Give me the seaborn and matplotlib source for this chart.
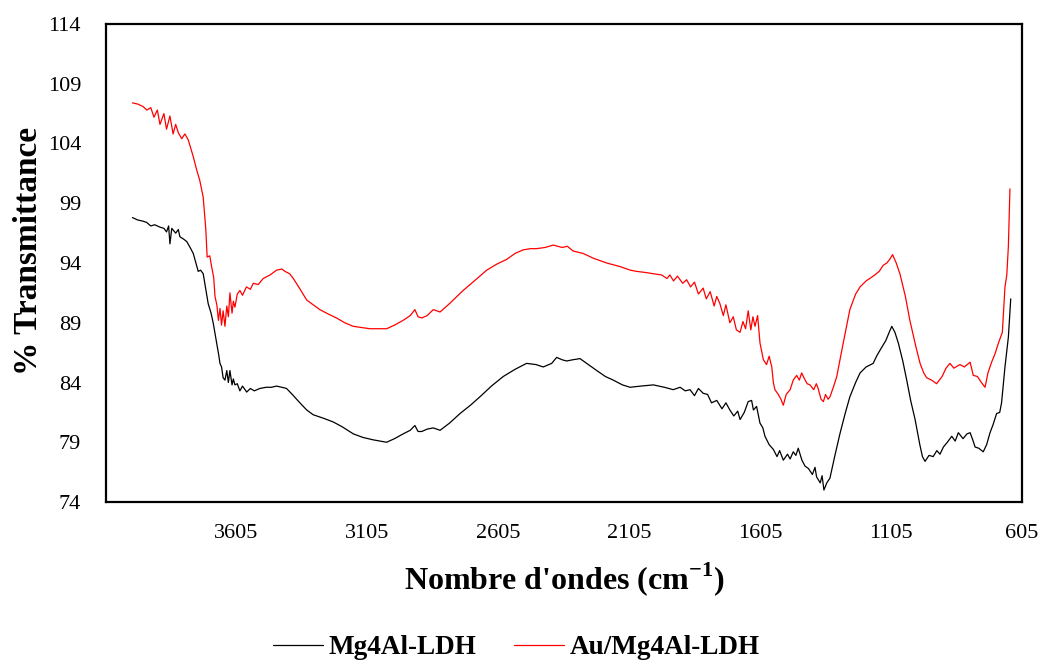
import numpy as np
import pandas as pd
import matplotlib
matplotlib.use("Agg")
import matplotlib.pyplot as plt
import seaborn as sns

# ---------------- data ----------------
wn_au = [4000,3980,3960,3945,3930,3918,3905,3895,3880,3870,3857,3845,3835,3825,3812,3800,3787,3768,3755,3743,
         3730,3720,3715,3705,3698,3690,3685,3678,3672,3666,3660,3654,3647,3640,3634,3628,3620,3615,3609,3600,
         3590,3580,3565,3550,3539,3520,3501,3475,3450,3430,3418,3400,3386,3360,3335,3310,3285,3250,3221,3190,
         3157,3125,3094,3060,3030,3000,2967,2940,2922,2910,2896,2875,2852,2826,2790,2738,2690,2648,2610,2572,
         2540,2509,2480,2458,2425,2394,2360,2340,2318,2280,2241,2190,2139,2100,2076,2040,2012,1980,1960,1949,
         1935,1920,1900,1885,1870,1855,1840,1822,1810,1795,1780,1770,1758,1745,1735,1720,1707,1695,1681,1670,
         1660,1650,1640,1632,1624,1614,1605,1592,1580,1570,1560,1554,1548,1535,1525,1516,1505,1490,1478,1465,
         1455,1446,1435,1425,1414,1400,1390,1383,1372,1363,1355,1345,1338,1325,1312,1290,1262,1240,1223,1200,
         1173,1150,1135,1121,1110,1099,1085,1071,1050,1033,1010,994,980,969,950,931,910,895,880,865,
         842,825,803,791,775,760,746,735,721,708,695,680,670,663,657,651]
t_au = [107.4,107.3,107.1,106.8,107.0,106.2,106.8,105.6,106.5,105.2,106.3,104.8,105.6,104.9,104.4,104.8,104.3,102.9,101.8,100.9,
        99.5,96.8,94.5,94.6,93.7,92.8,91.2,90.5,89.2,90.2,88.8,90.0,88.7,90.4,89.5,91.5,89.8,90.8,90.3,91.4,
        91.7,91.3,92.0,91.8,92.3,92.2,92.7,93.0,93.4,93.5,93.3,93.1,92.7,91.8,90.9,90.5,90.1,89.7,89.4,89.0,
        88.7,88.6,88.5,88.5,88.5,88.8,89.2,89.6,90.1,89.5,89.4,89.6,90.1,89.9,90.6,91.7,92.6,93.4,93.9,94.3,
        94.8,95.1,95.2,95.2,95.3,95.5,95.3,95.4,95.0,94.8,94.4,94.0,93.7,93.4,93.3,93.2,93.1,93.0,92.7,93.0,
        92.5,92.9,92.3,92.6,92.0,92.4,91.4,91.9,91.0,91.6,90.4,91.2,90.6,89.6,90.5,89.0,89.5,88.4,88.2,89.1,
        88.5,90.0,88.4,89.5,88.7,89.6,87.3,85.9,85.5,86.2,85.3,84.0,83.4,83.0,82.6,82.1,83.0,83.4,84.2,84.6,
        84.2,84.8,84.3,83.9,83.8,83.4,83.9,83.5,82.6,82.4,83.0,82.6,82.8,83.6,84.5,87.0,90.1,91.4,92.0,92.5,
        92.9,93.3,93.8,94.0,94.3,94.7,94.0,93.1,91.2,89.2,87.0,85.6,84.8,84.4,84.2,83.9,84.5,85.2,85.6,85.2,
        85.5,85.3,85.7,84.6,84.5,84.0,83.6,84.8,85.7,86.4,87.3,88.2,92.0,93.0,95.4,100.2]

wn_mg = [4000,3980,3960,3946,3930,3915,3895,3880,3870,3862,3857,3850,3835,3825,3819,3805,3793,3780,3768,3758,
         3749,3740,3730,3720,3711,3700,3692,3684,3676,3670,3666,3660,3654,3647,3640,3634,3628,3620,3615,3609,
         3600,3590,3580,3564,3550,3535,3514,3490,3470,3450,3430,3412,3390,3361,3335,3310,3270,3234,3200,3157,
         3120,3081,3055,3030,3000,2967,2940,2922,2910,2896,2875,2852,2826,2790,2750,2710,2674,2630,2585,2540,
         2496,2460,2432,2400,2381,2360,2343,2320,2292,2260,2228,2195,2165,2130,2101,2060,2012,1970,1936,1910,
         1890,1872,1855,1840,1822,1805,1790,1770,1750,1735,1720,1705,1690,1681,1665,1650,1637,1630,1618,1605,
         1594,1586,1570,1554,1540,1530,1516,1500,1490,1478,1468,1459,1445,1433,1420,1405,1395,1389,1375,1368,
         1361,1350,1338,1320,1300,1280,1262,1240,1223,1200,1173,1160,1147,1125,1110,1102,1090,1077,1060,1045,
         1030,1013,995,985,975,960,944,930,918,905,890,873,860,848,830,815,803,793,784,770,
         753,740,727,715,702,690,683,670,657,648]
t_mg = [97.8,97.6,97.5,97.4,97.1,97.2,97.0,96.9,96.6,97.1,95.6,96.9,96.5,96.8,96.2,96.0,95.8,95.3,94.8,94.0,
        93.3,93.4,93.1,91.8,90.6,89.8,89.0,88.0,87.0,86.2,85.6,85.3,84.4,84.2,85.0,84.0,85.0,83.8,84.3,83.8,
        83.9,83.3,83.7,83.2,83.5,83.3,83.5,83.6,83.6,83.7,83.6,83.5,83.0,82.3,81.7,81.3,81.0,80.7,80.3,79.7,
        79.4,79.2,79.1,79.0,79.3,79.7,80.0,80.4,79.9,79.9,80.1,80.2,80.0,80.6,81.4,82.1,82.8,83.7,84.5,85.1,
        85.6,85.5,85.3,85.6,86.1,85.9,85.8,85.9,86.0,85.5,85.0,84.5,84.2,83.8,83.6,83.7,83.8,83.6,83.4,83.6,
        83.3,83.4,82.9,83.5,83.1,83.0,82.3,82.5,81.8,82.3,81.7,81.2,81.6,80.9,81.5,82.4,82.5,81.7,82.0,80.6,
        80.2,79.5,78.8,78.4,77.8,78.3,77.5,78.0,77.6,78.2,77.9,78.5,77.5,77.0,76.8,76.3,76.9,76.1,75.6,76.2,
        75.0,75.6,76.0,77.8,79.7,81.4,82.8,84.0,84.8,85.3,85.6,86.2,86.7,87.5,88.3,88.7,88.2,87.3,85.8,84.2,
        82.5,80.9,78.8,77.8,77.4,77.9,77.8,78.3,78.0,78.6,79.0,79.5,79.1,79.8,79.3,79.7,79.8,79.2,78.6,78.5,
        78.2,78.8,79.8,80.5,81.4,81.5,82.3,85.3,87.8,91.0]

series_names = ["Mg4Al-LDH", "Au/Mg4Al-LDH"]
x_ticks = [605, 1105, 1605, 2105, 2605, 3105, 3605]
y_ticks = [74, 79, 84, 89, 94, 99, 104, 109, 114]

df = pd.concat([
    pd.DataFrame({"wn": wn_mg, "T": t_mg, "sample": series_names[0]}),
    pd.DataFrame({"wn": wn_au, "T": t_au, "sample": series_names[1]}),
], ignore_index=True)

# ---------------- style ----------------
sns.set_theme(style="white")
plt.rcParams["font.family"] = ["Liberation Serif", "DejaVu Serif"]
plt.rcParams["mathtext.fontset"] = "custom"
plt.rcParams["mathtext.rm"] = "Liberation Serif"
plt.rcParams["mathtext.bf"] = "Liberation Serif:bold"
plt.rcParams["text.color"] = "black"
plt.rcParams["axes.labelcolor"] = "black"

fig = plt.figure(figsize=(10.42, 6.62), dpi=100)
ax = fig.add_axes([106/1042, 1-502/662, (1022-106)/1042, (502-24)/662])

sns.lineplot(data=df, x="wn", y="T", hue="sample", hue_order=series_names,
             palette={"Mg4Al-LDH": "black", "Au/Mg4Al-LDH": "#ff0000"},
             linewidth=0.9, sort=False, estimator=None, ax=ax, legend=True)

ax.set_xlim(4101, 605)
ax.set_ylim(74, 114)
ax.set_xticks(x_ticks)
ax.set_yticks(y_ticks)
ax.tick_params(axis="both", length=0, labelsize=16, colors="black")
ax.tick_params(axis="y", pad=18)
ax.tick_params(axis="x", pad=16)
for s in ax.spines.values():
    s.set_visible(True)
    s.set_color("black")
    s.set_linewidth(1.6)

ax.set_xlabel(r"Nombre d'ondes (cm$^{\mathbf{-1}}$)", fontsize=23, fontweight="bold",
              labelpad=12, color="black")
ax.set_ylabel("% Transmittance", fontsize=24, fontweight="bold", color="black")
ax.yaxis.set_label_coords(-0.068, 0.525)

handles, labels = ax.get_legend_handles_labels()
ax.get_legend().remove()
leg = fig.legend(handles, labels, loc="center", bbox_to_anchor=(516/1042, 1-648/662),
                 ncol=2, frameon=False, prop={"weight": "bold", "size": 19.5},
                 handlelength=1.85, handletextpad=0.2, columnspacing=1.4)
for t in leg.get_texts():
    t.set_color("black")

fig.savefig("out.png", dpi=100)
